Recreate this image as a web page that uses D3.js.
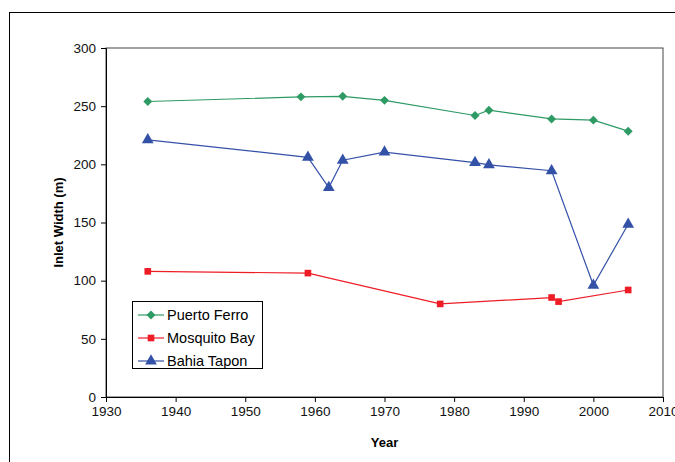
<!DOCTYPE html>
<html>
<head>
<meta charset="utf-8">
<script src="https://cdn.jsdelivr.net/npm/d3@7"></script>
<style>
  body { margin: 0; background: #fff; }
  text { font-family: "Liberation Sans", Arial, sans-serif; }
</style>
</head>
<body>
<div id="chart"></div>
<script>
let width = 675,
    height = 462,
    margin = ({ top: 48, right: 12, bottom: 65, left: 106 });

// data
const ferroYears = [1936, 1958, 1964, 1970, 1983, 1985, 1994, 2000, 2005];
const ferroWidth = [254, 258, 258.5, 255, 242, 246.5, 239, 238, 228.5];

const mosquitoYears = [1936, 1959, 1978, 1994, 1995, 2005];
const mosquitoWidth = [108, 106.5, 80, 85.5, 82, 92];

const taponYears = [1936, 1959, 1962, 1964, 1970, 1983, 1985, 1994, 2000, 2005];
const taponWidth = [221, 206, 180, 203.5, 210.5, 201.5, 199.5, 194.5, 96, 148.5];

const xTicks = [1930, 1940, 1950, 1960, 1970, 1980, 1990, 2000, 2010];
const yTicks = [0, 50, 100, 150, 200, 250, 300];

const series = [
  { name: "Puerto Ferro", years: ferroYears, values: ferroWidth, color: "#2e9a64", symbol: d3.symbolSquare, size: 40, rotate: 45 },
  { name: "Mosquito Bay", years: mosquitoYears, values: mosquitoWidth, color: "#ee1c25", symbol: d3.symbolSquare, size: 44, rotate: 0 },
  { name: "Bahia Tapon", years: taponYears, values: taponWidth, color: "#3451a8", symbol: d3.symbolTriangle, size: 60, rotate: 0 }
];

const svg = d3.select("#chart")
  .append("svg")
  .attr("width", width)
  .attr("height", height);

// outer chart frame (its right and bottom edges run past the picture)
svg.append("rect")
  .attr("x", 9.5).attr("y", 12.5)
  .attr("width", 700).attr("height", 500)
  .attr("fill", "none")
  .attr("stroke", "#000")
  .attr("stroke-width", 1);

let x = d3.scaleLinear()
  .domain([1930, 2010])
  .range([margin.left, 663]);

let y = d3.scaleLinear()
  .domain([0, 300])
  .range([397, margin.top]);

// plot area border
svg.append("rect")
  .attr("x", x(1930)).attr("y", y(300))
  .attr("width", x(2010) - x(1930)).attr("height", y(0) - y(300))
  .attr("fill", "none")
  .attr("stroke", "#444")
  .attr("stroke-width", 1);

let xAxis = svg.append("g")
  .attr("transform", `translate(0,${y(0)})`)
  .call(d3.axisBottom(x).tickValues(xTicks).tickFormat(d3.format("d")).tickSize(5).tickPadding(4));

let yAxis = svg.append("g")
  .attr("transform", `translate(${x(1930)},0)`)
  .call(d3.axisLeft(y).tickValues(yTicks).tickSize(5).tickPadding(5));

for (let g of [xAxis, yAxis]) {
  g.select(".domain").attr("stroke", "#000");
  g.selectAll(".tick line").attr("stroke", "#000");
  g.selectAll(".tick text").attr("font-size", 13.5).attr("fill", "#111")
    .style("font-family", "'Liberation Sans', Arial, sans-serif");
}

let line = d3.line()
  .x(d => x(d[0]))
  .y(d => y(d[1]));

for (let s of series) {
  let pts = s.years.map((yr, i) => [yr, s.values[i]]);
  let g = svg.append("g");

  g.append("path")
    .datum(pts)
    .attr("fill", "none")
    .attr("stroke", s.color)
    .attr("stroke-width", 1.2)
    .attr("d", line);

  g.selectAll("path.marker")
    .data(pts)
    .join("path")
    .attr("class", "marker")
    .attr("transform", d => `translate(${x(d[0])},${y(d[1])}) rotate(${s.rotate})`)
    .attr("d", d3.symbol(s.symbol, s.size))
    .attr("fill", s.color);
}

// axis titles
svg.append("text")
  .attr("x", (x(1930) + x(2010)) / 2)
  .attr("y", 447)
  .attr("text-anchor", "middle")
  .attr("font-size", 13)
  .attr("font-weight", "bold")
  .text("Year");

svg.append("text")
  .attr("transform", `translate(63,${(y(0) + y(300)) / 2}) rotate(-90)`)
  .attr("text-anchor", "middle")
  .attr("font-size", 13)
  .attr("font-weight", "bold")
  .text("Inlet Width (m)");

// legend
let legend = svg.append("g").attr("transform", "translate(132,301)");

legend.append("rect")
  .attr("x", 0.5).attr("y", 0.5)
  .attr("width", 130).attr("height", 67)
  .attr("fill", "#fff")
  .attr("stroke", "#000");

series.forEach((s, i) => {
  let row = legend.append("g").attr("transform", `translate(0,${14 + i * 23})`);
  row.append("line")
    .attr("x1", 6).attr("x2", 32)
    .attr("stroke", s.color)
    .attr("stroke-width", 1.2);
  row.append("path")
    .attr("transform", `translate(19,0) rotate(${s.rotate})`)
    .attr("d", d3.symbol(s.symbol, s.size))
    .attr("fill", s.color);
  row.append("text")
    .attr("x", 35)
    .attr("dy", "0.35em")
    .attr("font-size", 14.5)
    .text(s.name);
});
</script>
</body>
</html>
